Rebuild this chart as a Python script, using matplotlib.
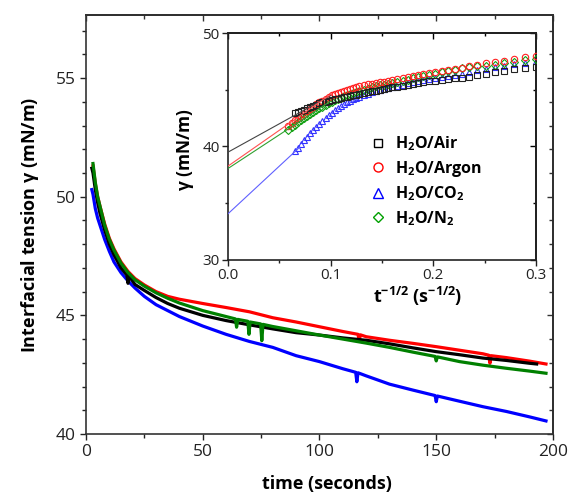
import numpy as np
import matplotlib
matplotlib.use("Agg")
import matplotlib.pyplot as plt
from matplotlib.ticker import MultipleLocator
from matplotlib.lines import Line2D

plt.rcParams['font.family'] = ['Open Sans', 'DejaVu Sans']
plt.rcParams['mathtext.fontset'] = 'custom'
plt.rcParams['mathtext.rm'] = 'Open Sans'
plt.rcParams['mathtext.bf'] = 'Open Sans:bold'
plt.rcParams['mathtext.it'] = 'Open Sans:italic'

# ---------------- main plot data (time in s, gamma in mN/m) ----------------
t_air = [2.5, 3, 4, 5, 6, 8, 10, 12, 15, 17.5, 18, 18.5, 21, 25, 30, 35, 40, 50, 60, 70, 80, 90,
         100, 110, 120, 130, 140, 150, 160, 170, 180, 190, 193]
g_air = [51.2, 51.0, 50.3, 49.75, 49.3, 48.6, 48.0, 47.55, 47.0, 46.7, 46.35, 46.65, 46.3, 46.05,
         45.75, 45.5, 45.3, 45.0, 44.78, 44.6, 44.43, 44.27, 44.17, 44.05, 43.95, 43.8, 43.63,
         43.47, 43.34, 43.2, 43.1, 42.98, 42.95]

t_ar = [3, 4, 5, 6, 8, 10, 12, 15, 18, 21, 25, 30, 35, 40, 50, 60, 70, 80, 90, 100, 110,
        116.5, 117, 117.5, 120, 130, 140, 150, 160, 170, 172.5, 173, 173.5, 180, 190, 197]
g_ar = [51.3, 50.55, 50.0, 49.6, 48.85, 48.25, 47.8, 47.25, 46.85, 46.55, 46.28, 46.0, 45.8,
        45.68, 45.5, 45.33, 45.15, 44.9, 44.72, 44.52, 44.32, 44.2, 43.9, 44.18, 44.1, 43.95,
        43.82, 43.68, 43.53, 43.38, 43.32, 42.98, 43.3, 43.22, 43.07, 42.95]

t_co2 = [2.5, 3, 4, 5, 6, 8, 10, 12, 15, 18, 21, 25, 30, 35, 40, 50, 60, 70, 80, 90, 100, 110,
         115.5, 116, 116.5, 120, 130, 140, 149.5, 150, 150.5, 160, 170, 180, 190, 197]
g_co2 = [50.3, 50.1, 49.5, 49.1, 48.8, 48.2, 47.7, 47.25, 46.8, 46.45, 46.15, 45.8, 45.45,
         45.2, 44.95, 44.55, 44.2, 43.9, 43.65, 43.3, 43.05, 42.75, 42.6, 42.2, 42.58, 42.45,
         42.1, 41.85, 41.62, 41.36, 41.6, 41.38, 41.15, 40.95, 40.72, 40.55]

t_n2 = [3, 4, 5, 6, 8, 10, 12, 15, 18, 21, 25, 30, 35, 40, 50, 60, 64, 64.5, 65, 69.3, 69.8,
        70.3, 74.8, 75.3, 75.8, 80, 90, 100, 110, 120, 130, 140, 149.5, 150, 150.5, 160, 170,
        180, 190, 197]
g_n2 = [51.4, 50.6, 50.0, 49.6, 48.8, 48.2, 47.75, 47.2, 46.8, 46.5, 46.23, 45.95, 45.72,
        45.52, 45.2, 44.95, 44.85, 44.5, 44.83, 44.75, 44.2, 44.72, 44.64, 43.93, 44.62, 44.53,
        44.35, 44.17, 44.0, 43.83, 43.65, 43.45, 43.27, 43.08, 43.25, 43.05, 42.9, 42.77,
        42.65, 42.56]

# ---------------- inset data (t^-1/2 in s^-1/2, gamma in mN/m) ----------------
nan = np.nan
inset_x = [0.300, 0.289, 0.279, 0.269, 0.260, 0.251, 0.243, 0.235, 0.228, 0.221, 0.214, 0.208,
           0.202, 0.196, 0.190, 0.185, 0.180, 0.175, 0.170, 0.165, 0.160, 0.156, 0.152, 0.148,
           0.144, 0.140, 0.136, 0.132, 0.128, 0.125, 0.122, 0.119, 0.116, 0.113, 0.110, 0.107,
           0.104, 0.101, 0.098, 0.095, 0.092, 0.089, 0.086, 0.083, 0.080, 0.077, 0.074, 0.071,
           0.068, 0.065, 0.062, 0.058]
inset_air = [47.03, 46.92, 46.80, 46.66, 46.52, 46.38, 46.26, 46.15, 46.07, 46.00, 45.93, 45.86,
             45.80, 45.74, 45.66, 45.59, 45.52, 45.44, 45.36, 45.28, 45.20, 45.13, 45.06, 44.99,
             44.92, 44.85, 44.78, 44.71, 44.64, 44.58, 44.52, 44.46, 44.40, 44.34, 44.28, 44.22,
             44.16, 44.10, 44.03, 43.96, 43.88, 43.79, 43.69, 43.58, 43.47, 43.36, 43.25, 43.13,
             43.02, 42.92, nan, nan]
inset_ar = [48.00, 47.85, 47.70, 47.57, 47.45, 47.32, 47.18, 47.05, 46.94, 46.84, 46.74, 46.65,
            46.57, 46.48, 46.38, 46.28, 46.20, 46.10, 46.00, 45.92, 45.85, 45.78, 45.72, 45.66,
            45.60, 45.54, 45.47, 45.40, 45.30, 45.22, 45.14, 45.05, 44.97, 44.88, 44.80, 44.70,
            44.60, 44.50, 44.35, 44.20, 44.05, 43.88, 43.70, 43.50, 43.30, 43.10, 42.90, 42.70,
            42.50, 42.30, 42.10, 41.80]
inset_co2 = [47.52, 47.37, 47.24, 47.10, 46.97, 46.84, 46.70, 46.56, 46.43, 46.33, 46.24, 46.15,
             46.07, 45.98, 45.87, 45.78, 45.68, 45.57, 45.46, 45.35, 45.24, 45.15, 45.06, 44.96,
             44.86, 44.76, 44.64, 44.52, 44.38, 44.27, 44.15, 44.02, 43.88, 43.72, 43.55, 43.37,
             43.18, 42.98, 42.76, 42.53, 42.28, 42.02, 41.75, 41.47, 41.18, 40.88, 40.56, 40.22,
             39.85, 39.60, nan, nan]
inset_n2 = [47.72, 47.60, 47.48, 47.36, 47.22, 47.12, 47.05, 46.97, 46.88, 46.76, 46.63, 46.52,
            46.40, 46.29, 46.18, 46.09, 46.00, 45.90, 45.80, 45.71, 45.62, 45.54, 45.46, 45.38,
            45.30, 45.20, 45.10, 45.00, 44.90, 44.82, 44.73, 44.63, 44.53, 44.42, 44.30, 44.18,
            44.06, 43.93, 43.80, 43.66, 43.52, 43.38, 43.24, 43.08, 42.90, 42.72, 42.53, 42.33,
            42.12, 41.92, 41.70, 41.45]

# linear fits in the inset: (x_start, y_start) -> (x_end, y_end)
fit_air = ([0.0, 0.100], [39.50, 44.50])
fit_ar = ([0.0, 0.101], [38.27, 44.65])
fit_co2 = ([0.0, 0.070], [34.07, 39.95])
fit_n2 = ([0.0, 0.100], [38.06, 44.00])

labels = [r'$\mathbf{H_2O/Air}$', r'$\mathbf{H_2O/Argon}$', r'$\mathbf{H_2O/CO_2}$',
          r'$\mathbf{H_2O/N_2}$']

# ---------------- figure ----------------
fig = plt.figure(figsize=(5.74, 4.97), dpi=100)
ax = fig.add_axes([0.1498, 0.1268, 0.8136, 0.8430])

lw = 2.3
ax.plot(t_air, g_air, color='black', lw=lw, zorder=3)
ax.plot(t_co2, g_co2, color='#0000ff', lw=lw, zorder=2)
ax.plot(t_ar, g_ar, color='#ff0000', lw=lw, zorder=2)
ax.plot(t_n2, g_n2, color='#008000', lw=lw, zorder=4)

ax.set_xlim(0, 200)
ax.set_ylim(40, 57.66)
ax.xaxis.set_major_locator(MultipleLocator(50))
ax.xaxis.set_minor_locator(MultipleLocator(25))
ax.yaxis.set_major_locator(MultipleLocator(5))
ax.yaxis.set_minor_locator(MultipleLocator(1))
ax.tick_params(which='both', direction='out', top=False, right=False, width=1.0,
               labelsize=12.5, colors='#222222')
ax.tick_params(which='major', length=4.5, pad=3)
ax.tick_params(which='minor', length=2.8)
for s in ax.spines.values():
    s.set_linewidth(1.2)
    s.set_color('#333333')

sx = ax.secondary_xaxis('top')
sx.xaxis.set_major_locator(MultipleLocator(50))
sx.xaxis.set_minor_locator(MultipleLocator(25))
sx.tick_params(which='both', direction='in', labeltop=False, width=1.0, colors='#333333')
sx.tick_params(which='major', length=4.5)
sx.tick_params(which='minor', length=2.8)
sx.spines['top'].set_linewidth(1.2)
sy = ax.secondary_yaxis('right')
sy.yaxis.set_major_locator(MultipleLocator(5))
sy.yaxis.set_minor_locator(MultipleLocator(1))
sy.tick_params(which='both', direction='in', labelright=False, width=1.0, colors='#333333')
sy.tick_params(which='major', length=4.5)
sy.tick_params(which='minor', length=2.8)
sy.spines['right'].set_linewidth(1.2)

fig.text(0.052, 0.548, r'Interfacial tension $\mathbf{\gamma}$ (mN/m)', rotation=90,
         ha='center', va='center', fontsize=13, fontweight='bold')
fig.text(0.570, 0.026, 'time (seconds)', ha='center', va='center', fontsize=13,
         fontweight='bold')

# ---------------- inset ----------------
ins = fig.add_axes([0.3972, 0.4769, 0.5366, 0.4567])
ins.set_facecolor('white')
ms = 4.6
mew = 0.8
ins.plot(inset_x, inset_co2, ls='none', marker='^', ms=ms, mfc='none', mec='#3333ff', mew=mew, zorder=2)
ins.plot(inset_x, inset_n2, ls='none', marker='D', ms=ms * 0.85, mfc='none', mec='#11a011', mew=mew, zorder=3)
ins.plot(inset_x, inset_ar, ls='none', marker='o', ms=ms, mfc='none', mec='#ff2020', mew=mew, zorder=4)
ins.plot(inset_x, inset_air, ls='none', marker='s', ms=ms, mfc='none', mec='#222222', mew=mew, zorder=5)

ins.plot(fit_air[0], fit_air[1], color='#444444', lw=0.8, zorder=6)
ins.plot(fit_ar[0], fit_ar[1], color='#ff5050', lw=0.8, zorder=6)
ins.plot(fit_co2[0], fit_co2[1], color='#6060ff', lw=0.8, zorder=6)
ins.plot(fit_n2[0], fit_n2[1], color='#30a030', lw=0.8, zorder=6)

ins.set_xlim(0, 0.3)
ins.set_ylim(30, 50)
ins.xaxis.set_major_locator(MultipleLocator(0.1))
ins.xaxis.set_minor_locator(MultipleLocator(0.05))
ins.yaxis.set_major_locator(MultipleLocator(10))
ins.yaxis.set_minor_locator(MultipleLocator(5))
ins.set_xticks([0, 0.1, 0.2, 0.3])
ins.set_xticklabels(['0.0', '0.1', '0.2', '0.3'])
ins.tick_params(which='both', direction='out', top=False, right=False, width=1.0,
                labelsize=11, colors='#222222')
ins.tick_params(which='major', length=4, pad=2)
ins.tick_params(which='minor', length=2.5)
for s in ins.spines.values():
    s.set_linewidth(1.2)
    s.set_color('#222222')
isx = ins.secondary_xaxis('top')
isx.xaxis.set_major_locator(MultipleLocator(0.1))
isx.xaxis.set_minor_locator(MultipleLocator(0.05))
isx.tick_params(which='both', direction='in', labeltop=False, width=1.0)
isx.tick_params(which='major', length=4)
isx.tick_params(which='minor', length=2.5)
isx.spines['top'].set_linewidth(1.2)
isy = ins.secondary_yaxis('right')
isy.yaxis.set_major_locator(MultipleLocator(10))
isy.yaxis.set_minor_locator(MultipleLocator(5))
isy.tick_params(which='both', direction='in', labelright=False, width=1.0)
isy.tick_params(which='major', length=4)
isy.tick_params(which='minor', length=2.5)
isy.spines['right'].set_linewidth(1.2)

fig.text(0.323, 0.700, r'$\mathbf{\gamma}$ (mN/m)', rotation=90, ha='center', va='center',
         fontsize=12.5, fontweight='bold')
fig.text(0.728, 0.404, r'$\mathbf{t^{-1/2}}$ $\mathbf{(s^{-1/2})}$', ha='center', va='center',
         fontsize=13, fontweight='bold')

handles = [Line2D([], [], ls='none', marker='s', ms=6, mfc='none', mec='black', mew=1.0),
           Line2D([], [], ls='none', marker='o', ms=6.5, mfc='none', mec='#ff0000', mew=1.0),
           Line2D([], [], ls='none', marker='^', ms=7, mfc='none', mec='#0000ff', mew=1.0),
           Line2D([], [], ls='none', marker='D', ms=5.5, mfc='none', mec='#00a000', mew=1.0)]
leg = ins.legend(handles, labels, loc='upper left', bbox_to_anchor=(0.630, 0.745),
                 bbox_transform=fig.transFigure, frameon=False, fontsize=11.5,
                 handlelength=1.0, handletextpad=0.6, labelspacing=0.35, borderpad=0)

fig.savefig('out.png', dpi=100, facecolor='white')
